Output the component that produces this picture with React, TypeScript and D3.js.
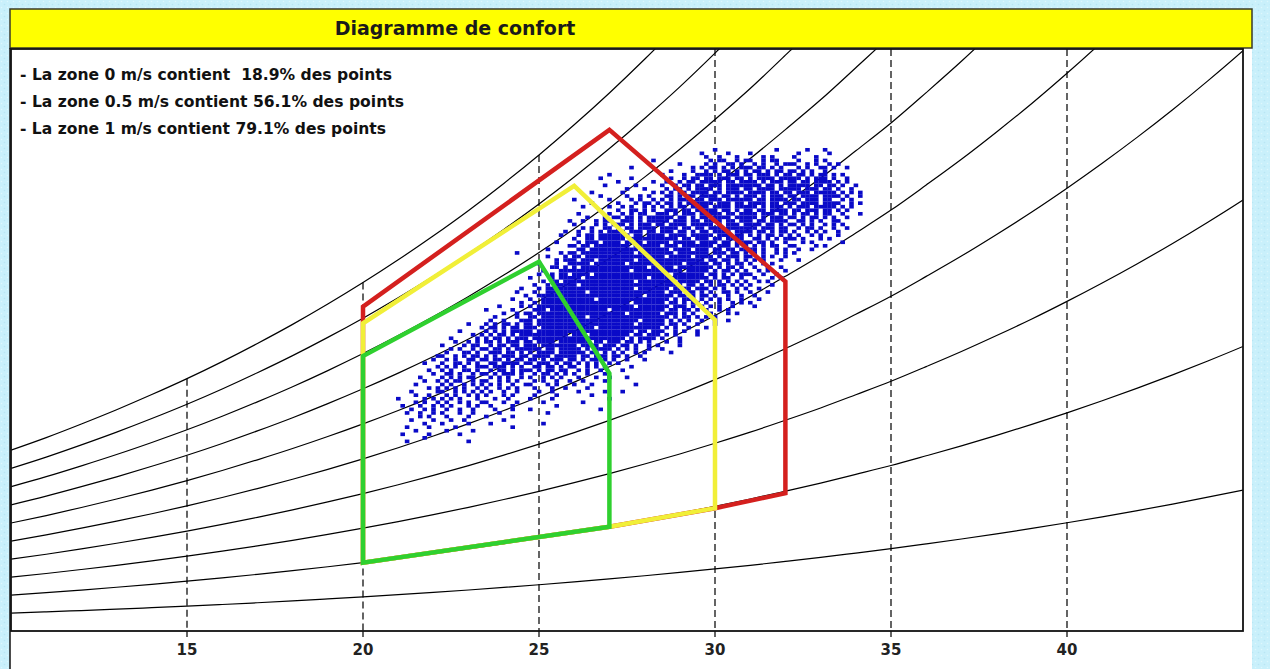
import React from "react";
import * as d3 from "d3";

// ---------- data ----------
const TITLE = "Diagramme de confort";
const LEGEND_LINES = [
  "- La zone 0 m/s contient  18.9% des points",
  "- La zone 0.5 m/s contient 56.1% des points",
  "- La zone 1 m/s contient 79.1% des points",
];
const X_TICKS = [15, 20, 25, 30, 35, 40];
const X_DOMAIN: [number, number] = [10, 45];
const Y_DOMAIN: [number, number] = [0, 24.55]; // humidity ratio g/kg

// relative humidity curves
const RH_LEVELS = [0.1, 0.2, 0.3, 0.4, 0.5, 0.6, 0.7, 0.8, 0.9, 1.0];
// saturation vapour pressure table (°C -> hPa)
const SAT_TEMPS = [10, 11, 12, 13, 14, 15, 16, 17, 18, 19, 20, 21, 22, 23, 24, 25, 26, 27, 28, 29, 30, 31, 32, 33, 34, 35, 36, 37, 38, 39, 40, 41, 42, 43, 44, 45, 46];
const SAT_PRESSURE = [12.28, 13.12, 14.03, 14.98, 15.99, 17.05, 18.18, 19.38, 20.64, 21.98, 23.39, 24.88, 26.45, 28.1, 29.85, 31.69, 33.63, 35.67, 37.82, 40.07, 42.46, 44.94, 47.6, 50.33, 53.26, 56.24, 59.49, 62.82, 66.34, 69.99, 73.85, 77.88, 82.09, 86.49, 91.11, 95.92, 100.99];
const ATM_PRESSURE = 1013.25;

// comfort zones [temperature °C, humidity ratio g/kg]
const ZONE_1MS: [number, number][] = [[20, 2.88], [20, 13.68], [27, 21.14], [32, 14.74], [32, 5.81], [30, 5.18], [27, 4.4]];
const ZONE_05MS: [number, number][] = [[20, 2.88], [20, 12.98], [26, 18.78], [30, 13.12], [30, 5.18], [27, 4.4]];
const ZONE_0MS: [number, number][] = [[20, 2.88], [20, 11.6], [25, 15.58], [27, 10.87], [27, 4.4]];

// hourly points: rows of humidity ratio (top = 20.3 g/kg, step 0.15),
// each row "startGroup|cells" where a cell is 0.125 °C starting at 21.0 °C, groups of 10 cells
const CLOUD_W_TOP = 20.3;
const CLOUD_W_STEP = 0.15;
const CLOUD_T_START = 21.0;
const CLOUD_T_STEP = 0.125;
const CLOUD_ROWS = [
  "7|..#....... ......#... ...#...#..",
  "6|.........# .....#.... #......... .#......#.",
  "7|#..#...#.. ...#.#.... #....#....",
  "5|........#. .......... .#.##..#.# #..#.##... .#...#.#..",
  "6|....#..... #.#..##.#. .#.#..#.## #..#.#..#. #.....",
  "5|...#...... .......#.# .##.#.#.## #.##.#.#.. .#.#..##.# ..#...",
  "6|..#....#.. #.#.##.#.# .##.#.##.# #.#.#..#..",
  "4|........#. .......... #....#..## ##.#.###.# #.###.#.## .##.#.##.# .#....",
  "4|......#... ...#...... ..#..#.##. ##.###.##. #.####.### ##.#.###.# ..#...",
  "5|#.......#. .#..#.##.# ####.##.## ##.#.###.# #.##.####. #.#...",
  "4|.......#.. ....#..... #..#.##.## .###.##### ###.##.#.# ####.##.## .#..#.",
  "5|..#...#... .#.##.#.## ##.#.###.# #.####.### ##.###.##. #..#..",
  "4|....#..... .#......#. #.#.##.### #.##.####. ####.##.## .###.##### .#.#.#",
  "4|......#... ..#..#.#.. .##.#.##.# ###.##.#.# ##.#.###.# #.####.### #.#..#",
  "4|#.......#. ...#.#..#. #.#.###.## .###.##### #.##.####. ##.###.##. .#.#..",
  "4|....#..... #...#.##.# .##.#.#### ##.###.##. ####.##.## #.####.### #..#.#",
  "4|..#.....#. .#.#..#.#. #.#.##.### #.####.### ##.#.###.# .###.##### .#.#..",
  "4|......#... #..##.#.#. .###.##.## ###.##.#.# #.##.####. ##.###.##. #.#...",
  "4|.#......#. .#.#.##..# ##.#.###.# ####.##.## ##.###.##. #.##.#.##. .#...#",
  "4|...#...#.# #.##.#.### ###.##.#.# #.####.### ##.#.###.# #.#.##.#.# ..#...",
  "3|.........# ..#..#.##. .###.#.### ##.###.##. ####.##.## #.##.####. .##.#.#..# #.....",
  "4|#....#.#.# ##.#.###.# #.####.### ##.#.###.# ###.##.#.# #.#.#..#.# .#....",
  "4|..#.#..##. #.##.####. ####.##.## .###.##### ##.###.##. .#.##.#..# ..#...",
  "3|........#. .#..#.#.## ##.###.##. ###.##.#.# #.####.### #.##.#.##. #..#.#.#.. #.....",
  "3|.......#.. .#.##.#### ###.##.### #.####.### ##.###.##. #.#.##.#.# .#..#.#... #.....",
  "4|#..##.#### ##.####### ####.##.## #.##.####. .##.#.#.## #.#...#.#.",
  "3|......#... .#.###.### #.####.### ##.#####.# ###.##.### #.##.#..#. ..#.#..... .#....",
  "3|.........# #.##.##### ###.###### .###.##### ##.###.#.# .#.#.##..# #....#.#..",
  "3|....#..... .##.###### #####.#### ##.####.## #.##.##.## ##.#..#.#. .#..#.....",
  "2|.......#.. .......#.# #.######## ####.##### ###.###### #.###.##.# .#.#..#.#. #.........",
  "3|....#...#. ##.####### ########## #.#####.## ##.#.###.# #..#.#..#.",
  "3|......#.## #.###.#### ####.##### ########## .##.##.#.# .#.#...#.. .#........",
  "3|..#...#..# ####.##### ##.####### #####.#### #.##.#.##. #..#.#....",
  "3|.....##.#. #.######## #######.## ###.###### ##.#.##.#. .#..#..#..",
  "3|...#...### ########## ###.###### #####.#### #.#.##.#.# ..#.#...#.",
  "3|..#..#.##. ####.##### ########## ##.####### .##.#.#.## #..#..#...",
  "3|#....#.### ##.####### #######.## ########## #.#.##..#. .#...#.#..",
  "3|...#.##.## ########## ####.##### ###.#####. ##.#.#.#.# ..#.#.....",
  "3|.#..#.#### #.######## ########## #####.##.# .#.##.#.#. #....#....",
  "2|........#. ..#.###### ########## ####.##### ##.####.## #.#.#..#.# ..#.......",
  "2|.......#.. .#..###### ###.###### ########## #.###.##.# .#..##.#.. #...#.....",
  "2|.........# ..######## ########## ######.### ###.##.#.# #.#..#..#. .#........",
  "2|......#... #..####### #####.#### ########## ##.#.###.# .#.#.#..#. ..#.......",
  "2|........#. .#.####### ########## ###.###### #.##.#.##. #..#..#.#. #.........",
  "2|...#....#. #.######## ########## ####.##### ##.###.#.# .#.#..#... .#........",
  "2|#.....#... .###.##### ########.# ########## #.##.##.#. #..#.#....",
  "2|....#..#.# #.######## ########## ##.####### .###.#.#.. .#...#.#..",
  "2|..#....#.. ##.####### ###.###### ########## ##.#.##.#. #.#.......",
  "2|.#..#...## #.######## ########## #####.#### #.#.#.#..# ..#..#....",
  "1|......#... #.#.##.#.# #.######## ########## ####.##### #.##.#..#. ..#.......",
  "1|.........# .##.#.##.# ##.####### #####.#### ########## .#.#..#... #.........",
  "1|....#..... #.#.#.#### #.######## ########## ####.##.## #..#.#..#.",
  "1|.......#.# .#.##.#.## #########. ###.###### ###.##.### .#.#....#.",
  "1|..#.....#. #.##.#.### .######### ########## ##.#.####. #...#.....",
  "1|...#..#.#. ##.#.###.# #.####.### ####.##.## #.##.#.#.. .#..#.....",
  "1|#....#.##. .#.##.##.# ##.####### #.####.### .##.#..#.# ....#.....",
  "1|..#.#..#.# #.##.#.### ###.##.### ##.#.####. #.#.#..#.. #.........",
  "1|.#...##.#. .###.##.#. #.####.### ###.##.#.# .#..#.#... ..#.......",
  "0|.........# #..#.#.##. #.#.###.## .####.#### #.##.###.# #.#..#....",
  "0|........#. .#.#..##.# #.##.#.##. ##.#.###.# #.#.##.#.# ..#...#...",
  "0|......#... #..##.#.#. .##.####.# #.###.#.## .#.#.#..#. #.........",
  "0|.........# .#.#.#..## #.###.#.#. .##.##.#.# #..#.#.#.. ...#......",
  "0|.......#.. #.#..##.#. .#.##.#.## #.#.##.##. .#.#..#... .#........",
  "0|........#. .##.#..#.# #.#.###.#. .#.##.#.#. #..#...#..",
  "0|.....#.... #.#.#.##.. .#.#.#..#. #..#.#.#.. .#...#..#. ..#.......",
  "0|......#..# .#.##..#.# #..#.#.#.. .#.#..#..# ..#....#..",
  "0|....#..... #.#..#.#.# .#.#..#..# #...#.#... #...#..... ....#.....",
  "0|.......#.# .#.#.#..#. #..#.#.#.. .#...#..#. ...#......",
  "0|...#.....# #..#.#.#.# .#..#..#.. ..#..#.... .#.....#.. .#........",
  "0|....#..#.. .#.#..#.#. #...#.#... .#....#... ....#.....",
  "0|#.....#.#. #.#.#...#. ..#..#.... #....#.... ........#.",
  "0|....#.#..# .#..#.#..# #...#..#.. ...#...... ..#.......",
  "0|.#...#..#. #.#...#.#. .#....#... ......#...",
  "0|...#..#.#. .#..#..#.. ..#...#... #......... ......#...",
  "0|..#..#..#. #...#..#.. ...#...... ....#.....",
  "0|.....#.#.. .#....#... #.....#...",
  "0|...#....#. ..#..#.... ....#.....",
  "0|......#... #.....#... .#........ ...#......",
  "0|..#....#.. ...#...... ......#...",
  "0|....#..... .#.....#..",
  "0|.#.....#.. ....#.....",
  "0|......#...",
  "0|..#....... ......#...",
];

// ---------- layout / style ----------
const W = 1270;
const H = 669;
const PLOT = { left: 11, right: 1243, top: 49, bottom: 631 };
const LEGEND_WIDTHS = [372, 384, 366];
const COLORS = {
  page: "#c9f0fb",
  title: "#ffff00",
  red: "#d4201e",
  yellow: "#f1ef38",
  green: "#2fd02f",
  points: "#0a0ac8",
};

export default function App() {
  const x = d3.scaleLinear().domain(X_DOMAIN).range([PLOT.left, PLOT.right]);
  const y = d3.scaleLinear().domain(Y_DOMAIN).range([PLOT.bottom, PLOT.top]);
  const humidity = (phi: number, ps: number) => (622 * phi * ps) / (ATM_PRESSURE - phi * ps);

  const curveLine = d3
    .line<[number, number]>()
    .x((d) => x(d[0]))
    .y((d) => y(d[1]))
    .curve(d3.curveMonotoneX);
  const zoneLine = d3
    .line<[number, number]>()
    .x((d) => x(d[0]))
    .y((d) => y(d[1]))
    .curve(d3.curveLinearClosed);

  const curves = RH_LEVELS.map((phi) =>
    SAT_TEMPS.map((t, i) => [t, humidity(phi, SAT_PRESSURE[i])] as [number, number])
  );

  const points: [number, number][] = [];
  CLOUD_ROWS.forEach((row, r) => {
    const [g, body] = row.split("|");
    const s = body.replace(/ /g, "");
    const w = CLOUD_W_TOP - r * CLOUD_W_STEP;
    for (let c = 0; c < s.length; c++) {
      if (s[c] === "#") points.push([CLOUD_T_START + (+g * 10 + c) * CLOUD_T_STEP, w]);
    }
  });

  const cellW = x(CLOUD_T_START + CLOUD_T_STEP) - x(CLOUD_T_START);
  const cellH = y(0) - y(CLOUD_W_STEP);

  const gridTop = (t: number) => {
    const i = SAT_TEMPS.indexOf(t);
    const ws = humidity(1, SAT_PRESSURE[i]);
    return Math.max(y(ws), PLOT.top);
  };

  const font = "'DejaVu Sans', Verdana, sans-serif";

  return (
    <svg
      width={W}
      height={H}
      viewBox={`0 0 ${W} ${H}`}
      style={{ position: "absolute", left: 0, top: 0, display: "block" }}
    >
      <defs>
        <clipPath id="plotClip">
          <rect x={PLOT.left} y={PLOT.top} width={PLOT.right - PLOT.left} height={PLOT.bottom - PLOT.top} />
        </clipPath>
        <pattern id="bgPat" width="6" height="6" patternUnits="userSpaceOnUse">
          <rect width="6" height="6" fill={COLORS.page} />
          <circle cx="1.5" cy="1.5" r="0.8" fill="#def7fd" />
          <circle cx="4.5" cy="4.5" r="0.8" fill="#b8e6f4" />
        </pattern>
      </defs>
      <rect x={0} y={0} width={W} height={H} fill="url(#bgPat)" />
      {/* white panel */}
      <rect x={10} y={9} width={1242} height={H - 9} fill="#ffffff" />
      {/* title bar */}
      <rect x={10} y={9} width={1242} height={39} fill={COLORS.title} stroke="#3a3a2a" strokeWidth={1.5} />
      <text
        x={455}
        y={35}
        textAnchor="middle"
        fontFamily={font}
        fontWeight="bold"
        fontSize={19}
        fill="#1a1a1a"
      >
        {TITLE}
      </text>
      <line x1={10} y1={48} x2={10} y2={H} stroke="#111" strokeWidth={1.5} />

      <g clipPath="url(#plotClip)">
        {/* dashed vertical grid */}
        {X_TICKS.map((t) => (
          <line
            key={t}
            x1={x(t)}
            x2={x(t)}
            y1={gridTop(t)}
            y2={PLOT.bottom}
            stroke="#111"
            strokeWidth={1.3}
            strokeDasharray="7,4"
          />
        ))}
        {/* relative humidity curves */}
        {curves.map((c, i) => (
          <path key={i} d={curveLine(c) || ""} fill="none" stroke="#000" strokeWidth={1.2} />
        ))}
        {/* points */}
        {points.map((p, i) => (
          <rect
            key={i}
            x={x(p[0]) - cellW / 2}
            y={y(p[1]) - cellH / 2}
            width={cellW + 0.2}
            height={cellH + 0.1}
            fill={COLORS.points}
          />
        ))}
        {/* comfort zones */}
        <path d={zoneLine(ZONE_1MS) || ""} fill="none" stroke={COLORS.red} strokeWidth={4.5} strokeLinejoin="miter" />
        <path d={zoneLine(ZONE_05MS) || ""} fill="none" stroke={COLORS.yellow} strokeWidth={4.5} strokeLinejoin="miter" />
        <path d={zoneLine(ZONE_0MS) || ""} fill="none" stroke={COLORS.green} strokeWidth={4.5} strokeLinejoin="miter" />
      </g>

      {/* plot frame */}
      <rect
        x={PLOT.left}
        y={PLOT.top}
        width={PLOT.right - PLOT.left}
        height={PLOT.bottom - PLOT.top}
        fill="none"
        stroke="#111"
        strokeWidth={1.8}
      />

      {/* x axis ticks and labels */}
      {X_TICKS.map((t) => (
        <g key={t}>
          <line x1={x(t)} x2={x(t)} y1={PLOT.bottom} y2={PLOT.bottom + 6} stroke="#111" strokeWidth={1.3} />
          <text
            x={x(t)}
            y={655}
            textAnchor="middle"
            fontFamily={font}
            fontWeight="bold"
            fontSize={15}
            fill="#222"
          >
            {t}
          </text>
        </g>
      ))}

      {/* legend */}
      {LEGEND_LINES.map((s, i) => (
        <text
          key={i}
          x={20}
          y={80 + i * 27}
          fontFamily={font}
          fontWeight="bold"
          fontSize={15}
          fill="#111"
          textLength={LEGEND_WIDTHS[i]}
          lengthAdjust="spacingAndGlyphs"
          style={{ whiteSpace: "pre" }}
        >
          {s}
        </text>
      ))}
    </svg>
  );
}
